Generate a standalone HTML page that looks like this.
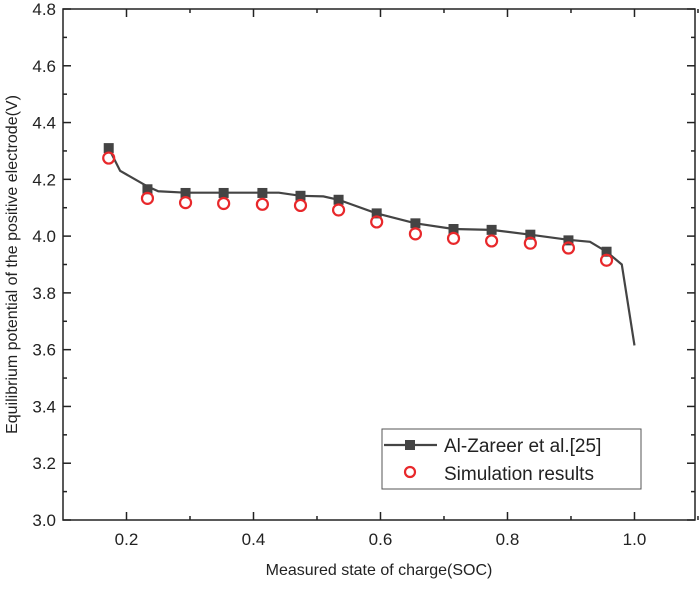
<!DOCTYPE html>
<html><head><meta charset="utf-8"><style>
body{margin:0;background:#fff}
svg text{font-family:"Liberation Sans",Arial,sans-serif;fill:#222}
</style></head><body>
<svg id="chart" width="700" height="585" viewBox="0 0 700 585" xmlns="http://www.w3.org/2000/svg"></svg>
<script>
const lineX=[0.172,0.19,0.233,0.25,0.293,0.353,0.414,0.44,0.474,0.51,0.534,0.594,0.655,0.715,0.775,0.836,0.896,0.93,0.956,0.98,1.0];
const lineY=[4.31,4.23,4.175,4.158,4.153,4.153,4.153,4.153,4.142,4.14,4.128,4.08,4.045,4.025,4.022,4.005,3.987,3.98,3.945,3.9,3.615];
const refX=[0.172,0.233,0.293,0.353,0.414,0.474,0.534,0.594,0.655,0.715,0.775,0.836,0.896,0.956];
const refY=[4.31,4.165,4.152,4.152,4.152,4.142,4.128,4.08,4.045,4.025,4.022,4.005,3.985,3.945];
const simX=[0.172,0.233,0.293,0.353,0.414,0.474,0.534,0.594,0.655,0.715,0.775,0.836,0.896,0.956];
const simY=[4.275,4.133,4.118,4.115,4.112,4.108,4.092,4.05,4.008,3.992,3.983,3.975,3.958,3.915];
const xTicks=["0.2","0.4","0.6","0.8","1.0"];
const yTicks=["3.0","3.2","3.4","3.6","3.8","4.0","4.2","4.4","4.6","4.8"];
const L=63,R=695,T=9,B=520,X0=0.1,X1=1.0953,Y0=3.0,Y1=4.8;
const sx=v=>L+(v-X0)/(X1-X0)*(R-L), sy=v=>B-(v-Y0)/(Y1-Y0)*(B-T);
const svg=document.getElementById('chart'),NS='http://www.w3.org/2000/svg';
function mk(t,a,p){const e=document.createElementNS(NS,t);for(const k in a)e.setAttribute(k,a[k]);(p||svg).appendChild(e);return e;}
// ticks
const tg=mk('g',{stroke:'#222','stroke-width':1.5});


xTicks.forEach(s=>{const v=parseFloat(s),x=sx(v);
 mk('line',{x1:x,x2:x,y1:B,y2:B-8},tg);mk('line',{x1:x,x2:x,y1:T,y2:T+8},tg);
 const m=sx(v+0.1);mk('line',{x1:m,x2:m,y1:B,y2:B-4},tg);mk('line',{x1:m,x2:m,y1:T,y2:T+4},tg);
 const t=mk('text',{x:x,y:B+25,'text-anchor':'middle','font-size':17});t.textContent=s;
 });
yTicks.forEach(s=>{const v=parseFloat(s),y=sy(v);
 mk('line',{x1:L,x2:L+8,y1:y,y2:y},tg);mk('line',{x1:R,x2:R-8,y1:y,y2:y},tg);
 if(v<4.8){const m=sy(v+0.1);mk('line',{x1:L,x2:L+4,y1:m,y2:m},tg);mk('line',{x1:R,x2:R-4,y1:m,y2:m},tg);}
 const t=mk('text',{x:L-7,y:y+6,'text-anchor':'end','font-size':17});t.textContent=s;
 });
const fr=mk('rect',{x:L,y:T,width:R-L,height:B-T,fill:'none',stroke:'#222','stroke-width':1.5});

// series
const pl=mk('polyline',{points:lineX.map((x,i)=>sx(x)+','+sy(lineY[i])).join(' '),fill:'none',stroke:'#444','stroke-width':2.2});

refX.forEach((x,i)=>{const r=mk('rect',{x:sx(x)-5,y:sy(refY[i])-5,width:10,height:10,fill:'#444'});
 });
simX.forEach((x,i)=>{const c=mk('circle',{cx:sx(x),cy:sy(simY[i]),r:5.5,fill:'none',stroke:'#e8282b','stroke-width':2.2});
 });
// legend
const lg=mk('g',{});
mk('rect',{x:382,y:429,width:259,height:60,fill:'#fff',stroke:'#555','stroke-width':1},lg);
mk('line',{x1:384,x2:437,y1:445,y2:445,stroke:'#444','stroke-width':2.2},lg);
mk('rect',{x:405,y:440,width:10,height:10,fill:'#444'},lg);
mk('circle',{cx:410,cy:472,r:5,fill:'none',stroke:'#e8282b','stroke-width':2.2},lg);
let t=mk('text',{x:444,y:452,'font-size':19},lg);t.textContent='Al-Zareer et al.[25]';

t=mk('text',{x:444,y:480,'font-size':19},lg);t.textContent='Simulation results';

// titles
t=mk('text',{x:(L+R)/2,y:575,'text-anchor':'middle','font-size':16});t.textContent='Measured state of charge(SOC)';

t=mk('text',{x:0,y:0,'text-anchor':'middle','font-size':16,transform:'translate(17,'+(T+B)/2+') rotate(-90)'});t.textContent='Equilibrium potential of the positive electrode(V)';

</script>
</body></html>
